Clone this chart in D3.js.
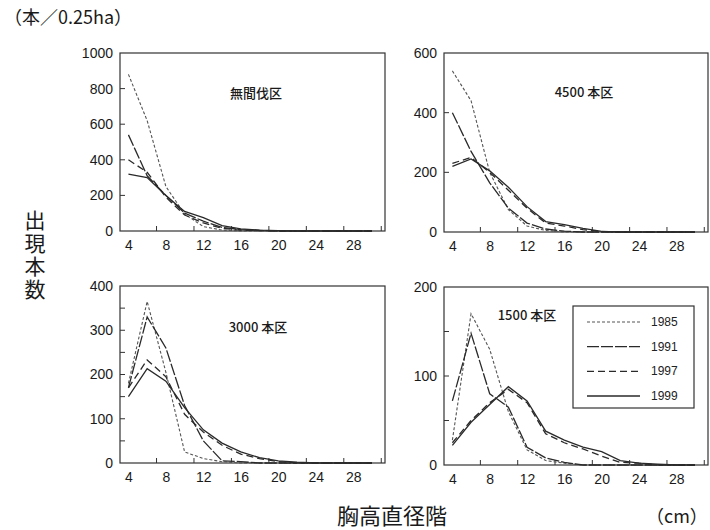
<!DOCTYPE html>
<html>
<head>
<meta charset="utf-8">
<script src="https://cdn.jsdelivr.net/npm/d3@7"></script>
<style>
    body { margin: 0; background: #fff; }
    svg { display: block; }
    .axis text { font-family: "Liberation Sans", Arial, sans-serif; font-size: 14px; fill: #1a1a1a; }
    .axis path, .axis line { stroke: #333; stroke-width: 1.2; }
    .jp { font-family: "Noto Sans CJK JP", sans-serif; fill: #1a1a1a; }
</style>
</head>
<body>
<div id="chart"></div>
<script>
(() => {
    let w = 710;
    let h = 530;

    // diameter classes (cm)
    let classes = [4, 6, 8, 10, 12, 14, 16, 18, 20, 22, 24, 26, 28, 30];
    let years = ["1985", "1991", "1997", "1999"];
    let xTickLabels = [4, 8, 12, 16, 20, 24, 28];
    let xTickMarks = [7, 11, 15, 19, 23, 27, 31];

    let titles = ["無間伐区", "4500 本区", "3000 本区", "1500 本区"];
    let yMax = [1000, 600, 400, 200];
    let yLabelStep = [200, 200, 100, 100];
    let yMarkStep = [200, 200, 50, 50];

    // trees per 0.25ha, one row per year (1985, 1991, 1997, 1999)
    let plotA = [
        [880, 620, 250, 95, 25, 5, 0, 0, 0, 0, 0, 0, 0, 0],
        [540, 310, 200, 100, 55, 20, 8, 3, 0, 0, 0, 0, 0, 0],
        [400, 330, 190, 90, 45, 15, 5, 2, 0, 0, 0, 0, 0, 0],
        [320, 300, 200, 110, 75, 30, 12, 5, 2, 0, 0, 0, 0, 0]
    ];
    let plotB = [
        [540, 440, 200, 75, 20, 5, 0, 0, 0, 0, 0, 0, 0, 0],
        [400, 270, 165, 80, 30, 10, 3, 0, 0, 0, 0, 0, 0, 0],
        [230, 250, 200, 140, 80, 30, 20, 8, 2, 0, 0, 0, 0, 0],
        [220, 245, 205, 150, 85, 35, 25, 12, 2, 0, 0, 0, 0, 0]
    ];
    let plotC = [
        [180, 365, 205, 25, 10, 3, 0, 0, 0, 0, 0, 0, 0, 0],
        [170, 330, 260, 130, 50, 5, 3, 0, 0, 0, 0, 0, 0, 0],
        [170, 233, 195, 110, 70, 40, 20, 10, 3, 0, 0, 0, 0, 0],
        [150, 213, 185, 125, 75, 45, 25, 12, 5, 2, 0, 0, 0, 0]
    ];
    let plotD = [
        [28, 170, 130, 60, 17, 5, 2, 0, 0, 0, 0, 0, 0, 0],
        [72, 148, 80, 65, 20, 8, 3, 0, 0, 0, 0, 0, 0, 0],
        [25, 50, 70, 85, 70, 35, 25, 18, 10, 3, 2, 0, 0, 0],
        [22, 48, 68, 88, 72, 38, 28, 20, 15, 5, 2, 1, 0, 0]
    ];
    let plots = [plotA, plotB, plotC, plotD];

    let dashes = ["3,2", "12,2", "7,4", null];

    // plot areas [left, top, right, bottom]
    let boxes = [
        [120, 53, 385, 231],
        [444, 53, 708, 232],
        [120, 286, 385, 463],
        [444, 287, 708, 465]
    ];

    let svg = d3.select("#chart")
        .append("svg")
        .attr("width", w)
        .attr("height", h);

    boxes.forEach((b, p) => {
        let g = svg.append("g");

        let x = d3.scaleLinear()
            .domain([3.1, 31.4])
            .range([b[0], b[2]]);
        let y = d3.scaleLinear()
            .domain([0, yMax[p]])
            .range([b[3], b[1]]);

        // frame
        g.append("rect")
            .attr("x", b[0])
            .attr("y", b[1])
            .attr("width", b[2] - b[0])
            .attr("height", b[3] - b[1])
            .attr("fill", "none")
            .attr("stroke", "#333")
            .attr("stroke-width", 1.2);

        // x axis labels
        g.append("g")
            .attr("class", "axis")
            .attr("transform", "translate(0," + b[3] + ")")
            .call(d3.axisBottom(x).tickValues(xTickLabels).tickSize(0).tickPadding(9))
            .call(a => a.select(".domain").remove());

        // inward x tick marks
        g.selectAll(".xmark")
            .data(xTickMarks)
            .enter()
            .append("line")
            .attr("x1", d => x(d))
            .attr("x2", d => x(d))
            .attr("y1", b[3])
            .attr("y2", b[3] - 5)
            .attr("stroke", "#333");

        // y axis labels
        g.append("g")
            .attr("class", "axis")
            .attr("transform", "translate(" + b[0] + ",0)")
            .call(d3.axisLeft(y)
                .tickValues(d3.range(0, yMax[p] + 1, yLabelStep[p]))
                .tickFormat(d3.format("d"))
                .tickSize(0)
                .tickPadding(7))
            .call(a => a.select(".domain").remove());

        // inward y tick marks
        g.selectAll(".ymark")
            .data(d3.range(yMarkStep[p], yMax[p], yMarkStep[p]))
            .enter()
            .append("line")
            .attr("x1", b[0])
            .attr("x2", b[0] + 5)
            .attr("y1", d => y(d))
            .attr("y2", d => y(d))
            .attr("stroke", "#333");

        let line = d3.line()
            .x((d, i) => x(classes[i]))
            .y(d => y(d));

        plots[p].forEach((series, s) => {
            g.append("path")
                .datum(series)
                .attr("d", line)
                .attr("fill", "none")
                .attr("stroke", s === 0 ? "#555" : "#2a2a2a")
                .attr("stroke-width", s === 0 ? 1.1 : 1.3)
                .attr("stroke-dasharray", dashes[s]);
        });
    });

    // panel titles
    let titlePos = [[256, 98], [584, 97], [258, 332], [527, 320]];
    titles.forEach((t, i) => {
        svg.append("text")
            .attr("class", "jp")
            .attr("x", titlePos[i][0])
            .attr("y", titlePos[i][1])
            .attr("text-anchor", "middle")
            .style("font-size", "13px")
            .style("font-weight", "500")
            .text(t);
    });

    // legend
    let legend = svg.append("g");
    legend.append("rect")
        .attr("x", 573)
        .attr("y", 306)
        .attr("width", 121)
        .attr("height", 102)
        .attr("fill", "#fff")
        .attr("stroke", "#333")
        .attr("stroke-width", 1.2);

    let legY = d3.scalePoint()
        .domain(years)
        .range([322, 396]);

    years.forEach((yr, s) => {
        legend.append("line")
            .attr("x1", 587)
            .attr("x2", 640)
            .attr("y1", legY(yr))
            .attr("y2", legY(yr))
            .attr("stroke", s === 0 ? "#555" : "#2a2a2a")
            .attr("stroke-width", s === 0 ? 1.1 : 1.3)
            .attr("stroke-dasharray", dashes[s]);
        legend.append("text")
            .attr("x", 651)
            .attr("y", legY(yr) + 4)
            .style("font-family", "Liberation Sans, Arial, sans-serif")
            .style("font-size", "12px")
            .style("fill", "#222")
            .text(yr);
    });

    // unit label
    svg.append("text")
        .attr("class", "jp")
        .attr("x", 4)
        .attr("y", 24)
        .style("font-size", "18px")
        .text("（本／0.25ha）");

    // y title, written vertically
    svg.append("text")
        .attr("class", "jp")
        .attr("x", 35)
        .attr("y", 210)
        .style("writing-mode", "vertical-rl")
        .style("font-size", "21px")
        .style("letter-spacing", "2px")
        .text("出現本数");

    // x title
    svg.append("text")
        .attr("class", "jp")
        .attr("x", 392)
        .attr("y", 524)
        .attr("text-anchor", "middle")
        .style("font-size", "22px")
        .text("胸高直径階");

    svg.append("text")
        .attr("class", "jp")
        .attr("x", 646)
        .attr("y", 523)
        .style("font-size", "18px")
        .text("（cm）");
})();
</script>
</body>
</html>
